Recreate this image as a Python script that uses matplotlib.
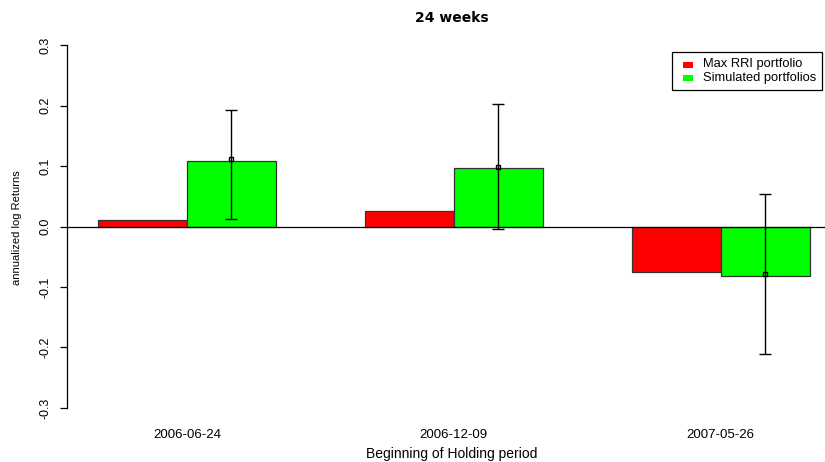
import numpy as np
import matplotlib
matplotlib.use("Agg")
import matplotlib.pyplot as plt
from matplotlib.patches import Rectangle

plt.rcParams['font.family'] = ['Liberation Sans', 'DejaVu Sans']

# data
periods = ['2006-06-24', '2006-12-09', '2007-05-26']
max_rri = [0.010, 0.026, -0.075]
simulated = [0.108, 0.097, -0.081]
sim_mid = [0.111, 0.099, -0.079]
sim_low = [0.012, -0.004, -0.210]
sim_high = [0.193, 0.203, 0.054]

W, H = 825, 462
fig = plt.figure(figsize=(W / 100, H / 100), dpi=100)

# plot region in pixels (R style, right side runs off the image)
left, right, top, bottom = 67, 838, 30.5, 422.5
ax = fig.add_axes([left / W, 1 - bottom / H, (right - left) / W, (bottom - top) / H])

centers = np.arange(len(periods)) * 3 + 2
ax.bar(centers - 0.5, max_rri, width=1, color='#ff0000', edgecolor='#333333', linewidth=0.9)
ax.bar(centers + 0.5, simulated, width=1, color='#00ff00', edgecolor='#333333', linewidth=0.9)

mid = np.array(sim_mid)
err = [mid - np.array(sim_low), np.array(sim_high) - mid]
ax.errorbar(centers + 0.5, mid, yerr=err, fmt='s', ms=2.5, mfc='none', mec='black',
            ecolor='black', elinewidth=1, capsize=4, capthick=1, color='black')

ax.axhline(0, color='black', linewidth=0.9)

ax.set_xlim(0.652, 9.32)
ax.set_ylim(-0.324, 0.324)

for s in ['top', 'right', 'bottom']:
    ax.spines[s].set_visible(False)
ax.spines['left'].set_bounds(-0.3, 0.3)
ax.spines['left'].set_linewidth(0.9)

ax.set_yticks([-0.3, -0.2, -0.1, 0.0, 0.1, 0.2, 0.3])
ax.set_yticklabels(['-0.3', '-0.2', '-0.1', '0.0', '0.1', '0.2', '0.3'],
                   rotation=90, va='center', fontsize=9)
ax.tick_params(axis='y', length=5, width=0.9, pad=6)
ax.set_xticks(centers)
ax.set_xticklabels(periods, fontsize=9.5)
ax.tick_params(axis='x', length=0, pad=5)

fig.text(452 / W, 1 - 18 / H, '24 weeks', ha='center', va='center',
         fontsize=10, fontweight='bold', family='DejaVu Sans')
fig.text(452 / W, 1 - 454 / H, 'Beginning of Holding period', ha='center', va='center',
         fontsize=10)
fig.text(17 / W, 1 - 228 / H, 'annualized log Returns', ha='center', va='center',
         rotation=90, fontsize=8)

# legend box drawn R style
fig.patches.append(Rectangle((672 / W, 1 - 90 / H), 150 / W, 38 / H, transform=fig.transFigure,
                             facecolor='white', edgecolor='black', linewidth=0.9))
labels = ['Max RRI portfolio', 'Simulated portfolios']
colors = ['#ff0000', '#00ff00']
for i, (lab, col) in enumerate(zip(labels, colors)):
    yc = 64.5 + i * 13.5
    fig.patches.append(Rectangle((683 / W, 1 - (yc + 3) / H), 10 / W, 6 / H,
                                 transform=fig.transFigure, facecolor=col, edgecolor='none'))
    fig.text(703 / W, 1 - yc / H, lab, ha='left', va='center', fontsize=9.3)

fig.savefig('out.png', dpi=100)
